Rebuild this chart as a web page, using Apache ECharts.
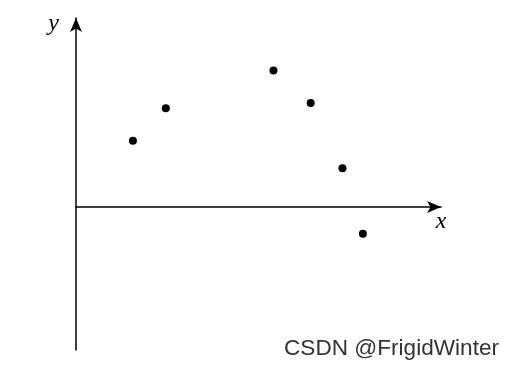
<!DOCTYPE html>
<html>
<head>
<meta charset="utf-8">
<script src="https://cdn.jsdelivr.net/npm/echarts@6/dist/echarts.min.js"></script>
<style>html,body{margin:0;padding:0;background:#fff;}#c{width:510px;height:371px;}</style>
</head>
<body>
<div id="c"></div>
<script>
var xValues = [1.56, 2.46, 5.41, 6.43, 7.30, 7.86];
var yValues = [1.40, 2.09, 2.89, 2.20, 0.82, -0.57];
var xName = 'x';
var yName = 'y';
var watermark = 'CSDN @FrigidWinter';

var points = xValues.map(function (x, i) { return [x, yValues[i]]; });

var chart = echarts.init(document.getElementById('c'), null, { renderer: 'canvas' });
var axisLine = {
  onZero: true,
  symbol: ['none', 'arrow'],
  symbolSize: [9, 14],
  lineStyle: { color: '#000', width: 1.5 }
};
chart.setOption({
  animation: false,
  backgroundColor: '#fff',
  title: {
    text: watermark,
    right: 11,
    top: 337,
    padding: 0,
    textStyle: { fontFamily: 'Liberation Sans', fontSize: 22.6, fontWeight: 'normal', color: '#333' }
  },
  grid: { left: 76, right: 69, top: 18, bottom: 21 },
  xAxis: {
    type: 'value', min: 0, max: 10,
    axisLine: axisLine,
    axisTick: { show: false }, axisLabel: { show: false }, splitLine: { show: false },
    name: xName, nameLocation: 'end', nameGap: 0,
    nameTextStyle: { fontFamily: 'Liberation Serif', fontStyle: 'italic', fontSize: 24, color: '#000', align: 'center', verticalAlign: 'top', padding: [3, 0, 0, 0] }
  },
  yAxis: {
    type: 'value', min: -3.03, max: 4,
    axisLine: axisLine,
    axisTick: { show: false }, axisLabel: { show: false }, splitLine: { show: false },
    name: yName, nameLocation: 'end', nameGap: -6,
    nameTextStyle: { fontFamily: 'Liberation Serif', fontStyle: 'italic', fontSize: 24, color: '#000', align: 'right', verticalAlign: 'middle', padding: [0, 17, 0, 0] }
  },
  series: [{
    type: 'scatter',
    data: points,
    symbol: 'circle',
    symbolSize: 8,
    itemStyle: { color: '#000', opacity: 1 }
  }]
});
</script>
</body>
</html>
